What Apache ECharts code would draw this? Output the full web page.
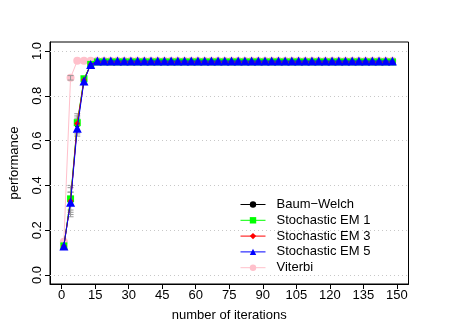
<!DOCTYPE html>
<html><head><meta charset="utf-8">
<script src="https://cdn.jsdelivr.net/npm/echarts@6/dist/echarts.min.js"></script>
<style>html,body{margin:0;padding:0;background:#fff}#c{width:463px;height:327px}</style>
</head><body><div id="c"></div>
<script>
const iterations = [1,4,7,10,13,16,19,22,25,28,31,34,37,40,43,46,49,52,55,58,61,64,67,70,73,76,79,82,85,88,91,94,97,100,103,106,109,112,115,118,121,124,127,130,133,136,139,142,145,148];
const baumWelch = [0.13,0.33,0.67,0.87,0.94,0.953,0.953,0.953,0.953,0.953,0.953,0.953,0.953,0.953,0.953,0.953,0.953,0.953,0.953,0.953,0.953,0.953,0.953,0.953,0.953,0.953,0.953,0.953,0.953,0.953,0.953,0.953,0.953,0.953,0.953,0.953,0.953,0.953,0.953,0.953,0.953,0.953,0.953,0.953,0.953,0.953,0.953,0.953,0.953,0.953];
const stochEM1 = [0.13,0.34,0.68,0.876,0.94,0.951,0.951,0.951,0.951,0.951,0.951,0.951,0.951,0.951,0.951,0.951,0.951,0.951,0.951,0.951,0.951,0.951,0.951,0.951,0.951,0.951,0.951,0.951,0.951,0.951,0.951,0.951,0.951,0.951,0.951,0.951,0.951,0.951,0.951,0.951,0.951,0.951,0.951,0.951,0.951,0.951,0.951,0.951,0.951,0.951];
const stochEM3 = [0.13,0.33,0.676,0.87,0.94,0.95,0.95,0.95,0.95,0.95,0.95,0.95,0.95,0.95,0.95,0.95,0.95,0.95,0.95,0.95,0.95,0.95,0.95,0.95,0.95,0.95,0.95,0.95,0.95,0.95,0.95,0.95,0.95,0.95,0.95,0.95,0.95,0.95,0.95,0.95,0.95,0.95,0.95,0.95,0.95,0.95,0.95,0.95,0.95,0.95];
const stochEM5 = [0.13,0.325,0.655,0.866,0.94,0.955,0.955,0.955,0.955,0.955,0.955,0.955,0.955,0.955,0.955,0.955,0.955,0.955,0.955,0.955,0.955,0.955,0.955,0.955,0.955,0.955,0.955,0.955,0.955,0.955,0.955,0.955,0.955,0.955,0.955,0.955,0.955,0.955,0.955,0.955,0.955,0.955,0.955,0.955,0.955,0.955,0.955,0.955,0.955,0.955];
const viterbi = [0.148,0.88,0.956,0.956,0.956,0.956,0.956,0.956,0.956,0.956,0.956,0.956,0.956,0.956,0.956,0.956,0.956,0.956,0.956,0.956,0.956,0.956,0.956,0.956,0.956,0.956,0.956,0.956,0.956,0.956,0.956,0.956,0.956,0.956,0.956,0.956,0.956,0.956,0.956,0.956,0.956,0.956,0.956,0.956,0.956,0.956,0.956,0.956,0.956,0.956];
// error bars (x, low, high)
const errX    = [1,    4,    4,    4,    4,    7,    7,    7,    10,   10,   4];
const errLow  = [0.12, 0.29, 0.28, 0.27, 0.26, 0.64, 0.63, 0.62, 0.85, 0.85, 0.87];
const errHigh = [0.14, 0.37, 0.39, 0.40, 0.37, 0.71, 0.72, 0.70, 0.885,0.88, 0.89];
const xTicks = [0,15,30,45,60,75,90,105,120,135,150];
const yTicks = [0,0.2,0.4,0.6,0.8,1.0];
const seriesNames = ['Baum\u2212Welch','Stochastic EM 1','Stochastic EM 3','Stochastic EM 5','Viterbi'];

const font = 'Liberation Sans, Arial, Helvetica, sans-serif';
const chart = echarts.init(document.getElementById('c'), null, {renderer:'canvas'});
const zip = arr => iterations.map((x,i)=>[x,arr[i]]);
function mk(name, arr, color, symbol, size, z){
  return {name, type:'line', data:zip(arr), color, symbol, symbolSize:size,
    lineStyle:{color, width:1}, itemStyle:{color}, z, animation:false, clip:true};
}
const option = {
  animation:false,
  backgroundColor:'#fff',
  grid:{left:42, right:54.5, top:42, bottom:41.5, show:true, borderColor:'#000', borderWidth:1, backgroundColor:'transparent'},
  xAxis:{type:'value', min:-5.2, max:155.2, interval:1000,
    name:'number of iterations', nameLocation:'middle', nameGap:25,
    nameTextStyle:{fontFamily:font, fontSize:13, color:'#000'},
    axisLine:{show:true, onZero:false, lineStyle:{color:'#000'}},
    axisTick:{show:true, length:5, customValues:xTicks, lineStyle:{color:'#000'}},
    axisLabel:{customValues:xTicks, fontFamily:font, fontSize:13, color:'#000', margin:5},
    splitLine:{show:false}},
  yAxis:{type:'value', min:-0.04, max:1.04, interval:1000,
    name:'performance', nameLocation:'middle', nameGap:29,
    nameTextStyle:{fontFamily:font, fontSize:13, color:'#000'},
    axisLine:{show:true, onZero:false, lineStyle:{color:'#000'}},
    axisTick:{show:true, length:5, customValues:yTicks, lineStyle:{color:'#000'}},
    axisLabel:{customValues:yTicks, rotate:90, fontFamily:font, fontSize:13, color:'#000', margin:6,
      formatter:v=>v.toFixed(1)},
    splitLine:{show:false}},
  legend:{orient:'vertical', left:240, top:198, padding:0, itemWidth:25, itemHeight:8, itemGap:2.8,
    data:seriesNames, lineStyle:{width:1},
    textStyle:{fontFamily:font, fontSize:13, color:'#000', padding:[0,0,0,6]}},
  series:[
    {type:'line', data:[], silent:true, markLine:{silent:true, symbol:'none', label:{show:false},
      lineStyle:{color:'#c8c8c8', type:[1,3], width:1},
      data:yTicks.map(v=>({yAxis:v}))}, z:1},
    mk(seriesNames[4], viterbi, '#FFC0CB', 'circle', 8, 2),
    {type:'custom', silent:true, z:3, data:errX.map((x,i)=>[x,errLow[i],errHigh[i]]),
      renderItem:(p,api)=>{
        const lo=api.coord([api.value(0),api.value(1)]);
        const hi=api.coord([api.value(0),api.value(2)]);
        const w=3;
        const st={stroke:'#999', lineWidth:1};
        return {type:'group', children:[
          {type:'line', shape:{x1:lo[0],y1:lo[1],x2:hi[0],y2:hi[1]}, style:st},
          {type:'line', shape:{x1:lo[0]-w,y1:lo[1],x2:lo[0]+w,y2:lo[1]}, style:st},
          {type:'line', shape:{x1:hi[0]-w,y1:hi[1],x2:hi[0]+w,y2:hi[1]}, style:st}]};
      }},
    mk(seriesNames[0], baumWelch, '#000000', 'circle', 5, 4),
    mk(seriesNames[1], stochEM1, '#00FF00', 'rect', 7, 5),
    mk(seriesNames[2], stochEM3, '#FF0000', 'diamond', 6, 6),
    mk(seriesNames[3], stochEM5, '#0000FF', 'triangle', 9, 7)
  ]
};
chart.setOption(option);
</script></body></html>
